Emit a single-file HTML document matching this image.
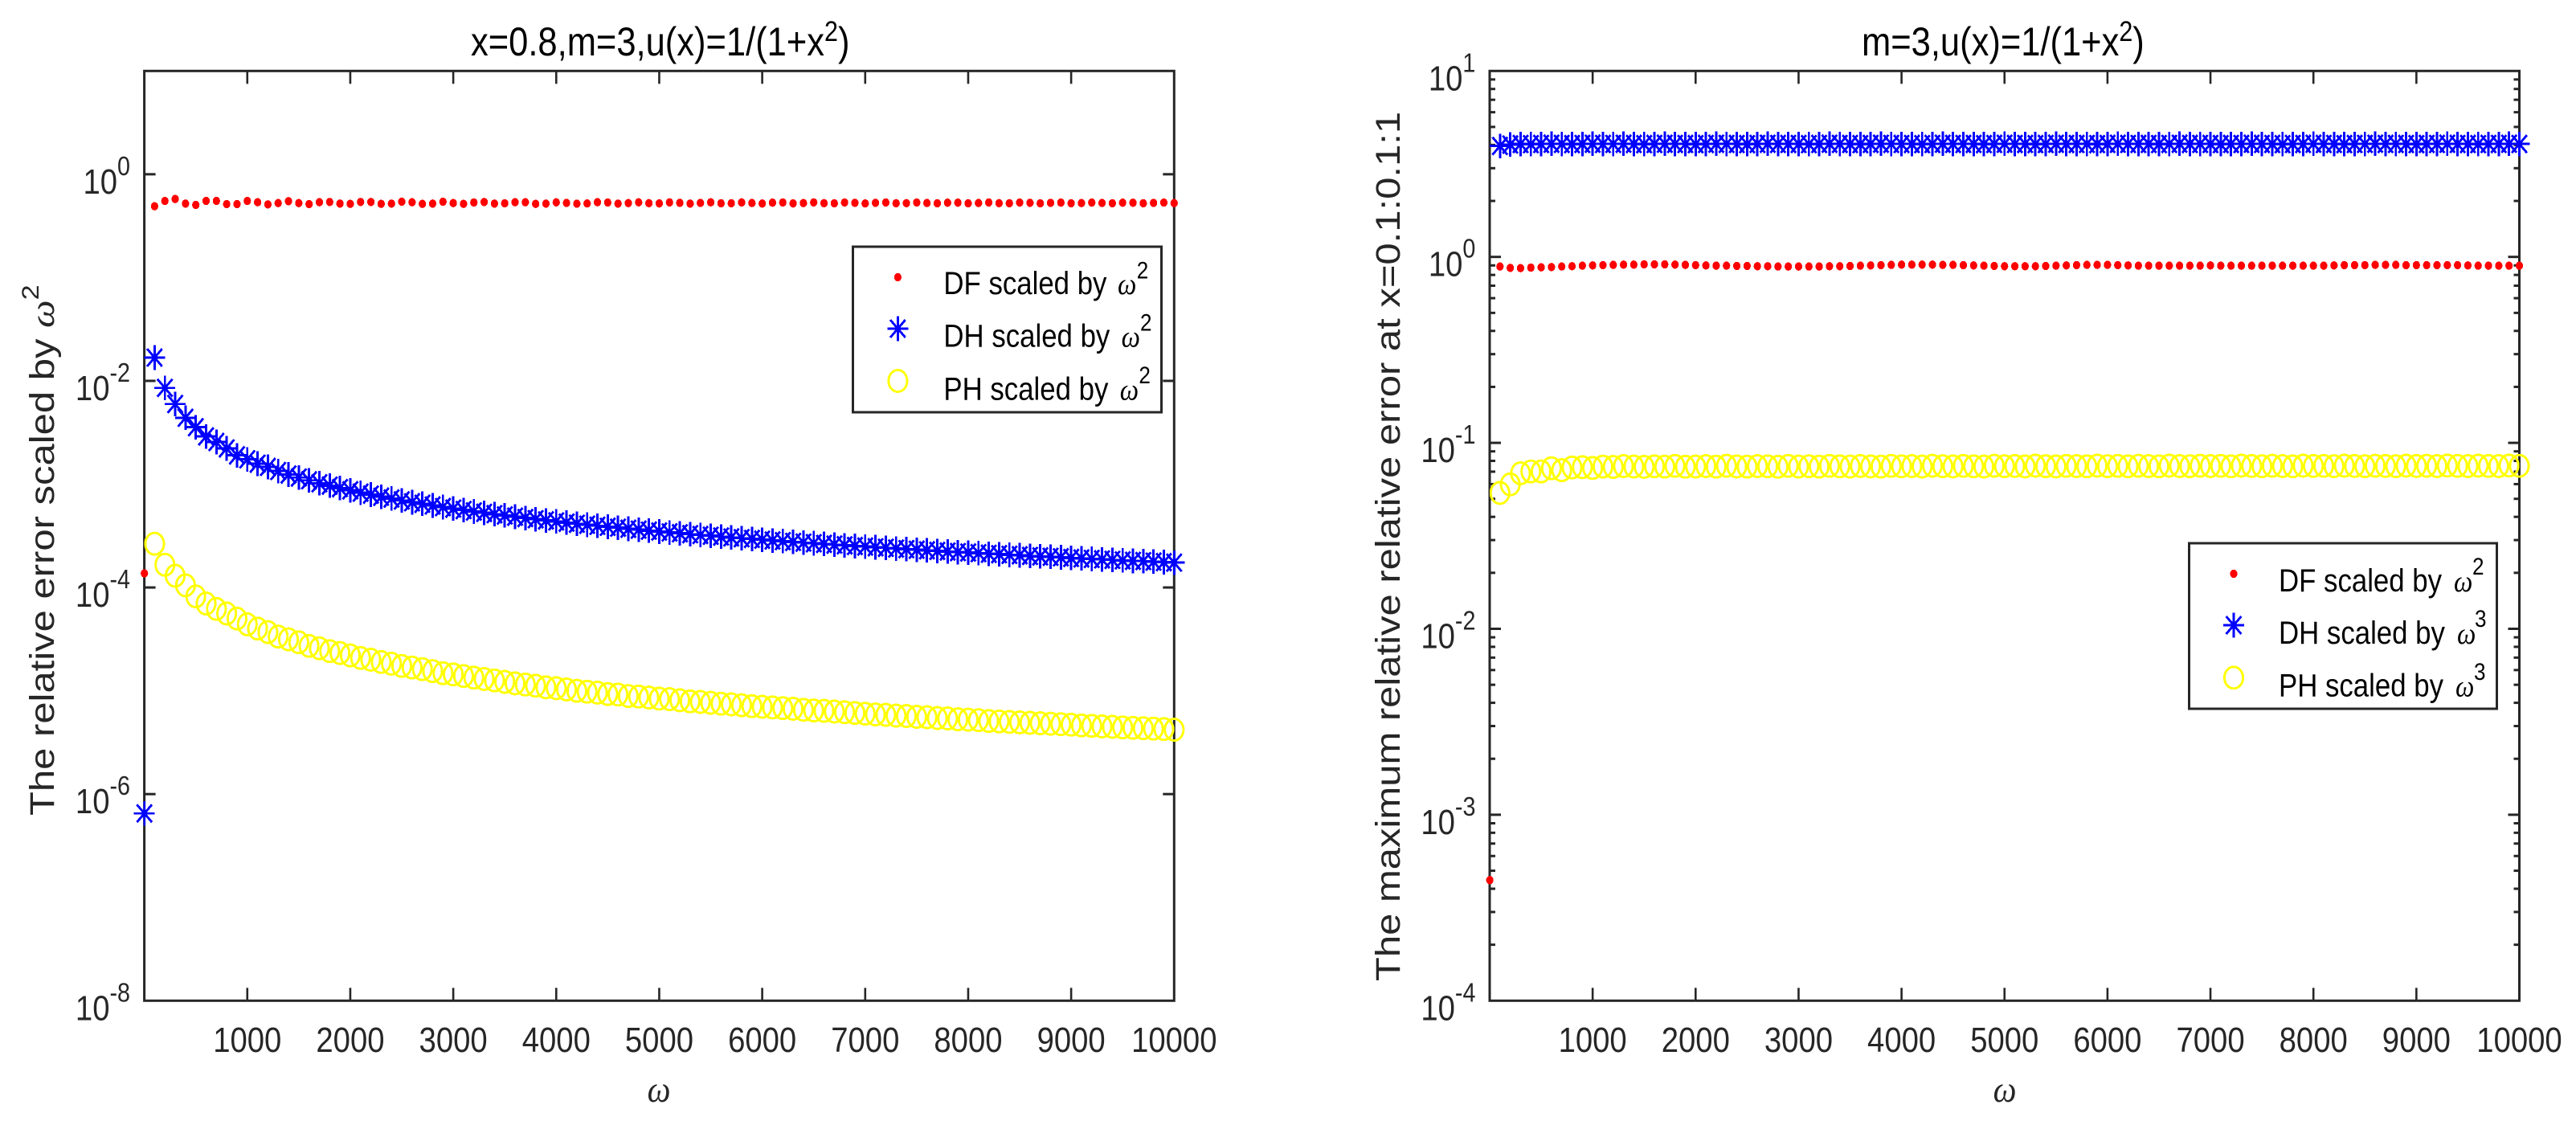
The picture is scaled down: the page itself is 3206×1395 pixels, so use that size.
<!DOCTYPE html>
<html>
<head>
<meta charset="utf-8">
<title>Relative error charts</title>
<style>
html,body{margin:0;padding:0;background:#fff;}
svg{display:block;}
text{font-family:"Liberation Sans",sans-serif;}
.sym{font-family:"Liberation Serif",serif;font-style:italic;}
</style>
</head>
<body>
<svg id="figure" xmlns="http://www.w3.org/2000/svg" width="3206" height="1395" viewBox="0 0 3206 1395">
<rect x="0" y="0" width="3206" height="1395" fill="#fff"/>
<g id="left-chart"></g>
<g id="right-chart"></g>

<text transform="translate(586,69) scale(0.87,1)" font-size="50" fill="#000">x=0.8,m=3,u(x)=1/(1+x<tspan font-size="35" dy="-18">2</tspan><tspan dy="18">)</tspan></text>
<text transform="translate(2317,69) scale(0.87,1)" font-size="50" fill="#000">m=3,u(x)=1/(1+x<tspan font-size="35" dy="-18">2</tspan><tspan dy="18">)</tspan></text>

<text transform="translate(67,1015) scale(0.87,1) rotate(-90)" font-size="49" fill="#262626">The relative error scaled by <tspan class="sym">ω</tspan><tspan font-size="34" dy="-22">2</tspan></text>
<text transform="translate(1742,1221) scale(0.87,1) rotate(-90)" font-size="49" fill="#262626">The maximum relative relative error at x=0.1:0.1:1</text>

<text class="sym" transform="translate(820,1371) scale(0.87,1)" font-size="47" fill="#262626" text-anchor="middle">ω</text>
<text class="sym" transform="translate(2495,1371) scale(0.87,1)" font-size="47" fill="#262626" text-anchor="middle">ω</text>

<g id="left-legend">
  <rect x="1061.5" y="307" width="384" height="206" fill="#fff" stroke="#262626" stroke-width="3"/>
  <g>
    <text transform="translate(1174.4,366) scale(0.87,1)" font-size="40" fill="#000">DF scaled by</text>
    <text class="sym" transform="translate(1391,366) scale(0.87,1)" font-size="38" fill="#000">ω</text>
    <text transform="translate(1414.7,346.7) scale(0.87,1)" font-size="30" fill="#000">2</text>
  </g>
  <g>
    <text transform="translate(1174.4,431.7) scale(0.87,1)" font-size="40" fill="#000">DH scaled by</text>
    <text class="sym" transform="translate(1395.6,431.7) scale(0.87,1)" font-size="38" fill="#000">ω</text>
    <text transform="translate(1419,411.7) scale(0.87,1)" font-size="30" fill="#000">2</text>
  </g>
  <g>
    <text transform="translate(1174.4,497.3) scale(0.87,1)" font-size="40" fill="#000">PH scaled by</text>
    <text class="sym" transform="translate(1393.7,497.3) scale(0.87,1)" font-size="38" fill="#000">ω</text>
    <text transform="translate(1417.4,477) scale(0.87,1)" font-size="30" fill="#000">2</text>
  </g>
</g>

<g id="right-legend">
  <rect x="2724.5" y="676" width="383" height="206" fill="#fff" stroke="#262626" stroke-width="3"/>
  <g>
    <text transform="translate(2836,736) scale(0.87,1)" font-size="40" fill="#000">DF scaled by</text>
    <text class="sym" transform="translate(3054,736) scale(0.87,1)" font-size="38" fill="#000">ω</text>
    <text transform="translate(3077,715) scale(0.87,1)" font-size="30" fill="#000">2</text>
  </g>
  <g>
    <text transform="translate(2836,801) scale(0.87,1)" font-size="40" fill="#000">DH scaled by</text>
    <text class="sym" transform="translate(3058,801) scale(0.87,1)" font-size="38" fill="#000">ω</text>
    <text transform="translate(3080,780) scale(0.87,1)" font-size="30" fill="#000">3</text>
  </g>
  <g>
    <text transform="translate(2836,866.7) scale(0.87,1)" font-size="40" fill="#000">PH scaled by</text>
    <text class="sym" transform="translate(3056,866.7) scale(0.87,1)" font-size="38" fill="#000">ω</text>
    <text transform="translate(3079,846) scale(0.87,1)" font-size="30" fill="#000">3</text>
  </g>
</g>
</svg>

<script>
const omega = [1,
100,200,300,400,500,600,700,800,900,1000,
1100,1200,1300,1400,1500,1600,1700,1800,1900,2000,
2100,2200,2300,2400,2500,2600,2700,2800,2900,3000,
3100,3200,3300,3400,3500,3600,3700,3800,3900,4000,
4100,4200,4300,4400,4500,4600,4700,4800,4900,5000,
5100,5200,5300,5400,5500,5600,5700,5800,5900,6000,
6100,6200,6300,6400,6500,6600,6700,6800,6900,7000,
7100,7200,7300,7400,7500,7600,7700,7800,7900,8000,
8100,8200,8300,8400,8500,8600,8700,8800,8900,9000,
9100,9200,9300,9400,9500,9600,9700,9800,9900,10000];

const xTickValues = [1000,2000,3000,4000,5000,6000,7000,8000,9000,10000];
const leftYTickExponents = [0,-2,-4,-6,-8];
const rightYTickExponents = [1,0,-1,-2,-3,-4];
const rightMinorMultipliers = [2,3,4,5,6,7,8,9];

const leftDF = [1.37e-4,
.490,.552,.576,.520,.505,.552,.552,.514,.514,.552,
.536,.511,.526,.549,.526,.514,.536,.539,.520,.517,
.539,.539,.517,.520,.542,.536,.517,.520,.542,.526,
.517,.533,.539,.520,.523,.536,.536,.517,.520,.535,
.528,.519,.522,.536,.533,.520,.526,.535,.525,.522,
.534,.529,.520,.528,.535,.524,.524,.534,.527,.521,
.531,.533,.522,.526,.534,.525,.523,.533,.529,.522,
.529,.533,.524,.525,.533,.527,.523,.531,.531,.523,
.527,.533,.525,.524,.532,.529,.523,.529,.532,.524,
.526,.532,.527,.524,.531,.530,.524,.528,.532,.526];

const leftDH = [6.5e-7,
.0168,.00855,.00597,.00439,.00356,.0029,.00256,.00222,.0019,.00174,
.00158,.00147,.00134,.00124,.00116,.00109,.00102,.000968,.000916,.000872,
.000828,.000792,.000756,.000726,.000696,.000668,.000646,.000622,.0006,.00058,
.000562,.000544,.000528,.000512,.000498,.000484,.00047,.000458,.000446,.000436,
.000424,.000414,.000405,.000396,.000387,.000379,.00037,.000363,.000355,.000348,
.000341,.000335,.000328,.000322,.000317,.000311,.000305,.0003,.000295,.00029,
.000285,.000281,.000276,.000272,.000268,.000264,.00026,.000256,.000252,.000249,
.000245,.000242,.000238,.000235,.000232,.000229,.000226,.000223,.00022,.000218,
.000215,.000212,.00021,.000207,.000205,.000202,.0002,.000198,.000196,.000193,
.000191,.000189,.000187,.000185,.000183,.000181,.00018,.000178,.000176,.000174];

const leftPH = [null,
2.65e-4,1.66e-4,1.3e-4,1.05e-4,8.2e-5,7.0e-5,6.2e-5,5.6e-5,5.0e-5,4.4e-5,
4.0e-5,3.7e-5,3.35e-5,3.15e-5,2.95e-5,2.72e-5,2.58e-5,2.42e-5,2.32e-5,2.2e-5,
2.08e-5,2.0e-5,1.9e-5,1.83e-5,1.74e-5,1.68e-5,1.62e-5,1.55e-5,1.48e-5,1.44e-5,
1.39e-5,1.34e-5,1.3e-5,1.26e-5,1.22e-5,1.18e-5,1.15e-5,1.12e-5,1.08e-5,1.06e-5,
1.03e-5,1.0e-5,9.8e-6,9.6e-6,9.3e-6,9.2e-6,8.9e-6,8.8e-6,8.6e-6,8.4e-6,
8.3e-6,8.1e-6,7.9e-6,7.8e-6,7.65e-6,7.5e-6,7.4e-6,7.25e-6,7.1e-6,7.0e-6,
6.9e-6,6.8e-6,6.7e-6,6.55e-6,6.45e-6,6.4e-6,6.3e-6,6.2e-6,6.1e-6,6.0e-6,
5.9e-6,5.85e-6,5.75e-6,5.7e-6,5.6e-6,5.55e-6,5.45e-6,5.4e-6,5.3e-6,5.25e-6,
5.2e-6,5.1e-6,5.05e-6,5.0e-6,4.95e-6,4.9e-6,4.85e-6,4.8e-6,4.75e-6,4.7e-6,
4.62e-6,4.58e-6,4.52e-6,4.48e-6,4.42e-6,4.38e-6,4.34e-6,4.3e-6,4.26e-6,4.2e-6];

const rightDF = [4.45e-4,
.888,.873,.870,.876,.879,.882,.888,.891,.897,.900,
.903,.906,.909,.909,.912,.912,.912,.909,.906,.903,
.900,.897,.897,.894,.894,.891,.891,.888,.888,.888,
.888,.888,.891,.891,.894,.897,.900,.903,.906,.909,
.909,.909,.909,.906,.906,.903,.900,.897,.894,.891,
.891,.891,.891,.894,.897,.900,.903,.906,.906,.906,
.903,.900,.897,.897,.897,.897,.897,.897,.897,.900,
.897,.897,.897,.897,.897,.897,.897,.897,.897,.897,
.897,.900,.903,.903,.903,.906,.906,.906,.903,.903,
.903,.903,.903,.903,.900,.897,.897,.897,.897,.897];

const rightDH = [null,
3.95,4.02,4.05,4.04,4.05,4.06,4.05,4.04,4.05,4.06,
4.05,4.05,4.06,4.05,4.04,4.05,4.06,4.05,4.05,4.04,
4.05,4.06,4.05,4.05,4.04,4.05,4.06,4.05,4.05,4.05,
4.04,4.05,4.06,4.05,4.05,4.04,4.05,4.06,4.05,4.05,
4.05,4.04,4.05,4.06,4.05,4.05,4.05,4.04,4.05,4.06,
4.05,4.05,4.04,4.05,4.06,4.05,4.05,4.05,4.04,4.05,
4.06,4.05,4.05,4.05,4.04,4.05,4.06,4.05,4.05,4.05,
4.04,4.05,4.05,4.06,4.05,4.05,4.04,4.05,4.05,4.06,
4.05,4.05,4.04,4.05,4.05,4.06,4.05,4.05,4.05,4.04,
4.05,4.05,4.06,4.05,4.05,4.04,4.05,4.05,4.06,4.05];

const rightPH = [null,
.0538,.0598,.0686,.0702,.0702,.0730,.0713,.0737,.0740,.0733,
.0745,.0742,.0750,.0746,.0743,.0748,.0745,.0752,.0744,.0746,
.0750,.0745,.0753,.0747,.0745,.0750,.0748,.0744,.0752,.0746,
.0749,.0745,.0752,.0748,.0746,.0751,.0747,.0745,.0752,.0748,
.0750,.0746,.0753,.0749,.0747,.0752,.0748,.0746,.0753,.0749,
.0751,.0747,.0754,.0749,.0747,.0752,.0750,.0748,.0754,.0749,
.0752,.0748,.0753,.0750,.0748,.0754,.0750,.0749,.0753,.0750,
.0752,.0748,.0754,.0751,.0749,.0753,.0750,.0748,.0754,.0751,
.0752,.0749,.0754,.0751,.0749,.0753,.0751,.0749,.0754,.0751,
.0753,.0750,.0755,.0752,.0750,.0754,.0751,.0750,.0755,.0752];

const SVG_NS = 'http://www.w3.org/2000/svg';
const AXIS_COLOR = '#262626';

function svgEl(tag, parent) {
  const el = document.createElementNS(SVG_NS, tag);
  parent.appendChild(el);
  return el;
}

function drawLine(parent, name, x1, y1, x2, y2, width) {
  const el = svgEl('line', parent);
  
  
  el.setAttribute('x1', x1);
  el.setAttribute('y1', y1);
  el.setAttribute('x2', x2);
  el.setAttribute('y2', y2);
  el.setAttribute('stroke', AXIS_COLOR);
  el.setAttribute('stroke-width', width);
  return el;
}

function drawMarker(parent, kind, name, cx, cy) {
  if (kind === 'dot') {
    const el = svgEl('ellipse', parent);
    
    
    el.setAttribute('cx', cx);
    el.setAttribute('cy', cy);
    el.setAttribute('rx', 4.6);
    el.setAttribute('ry', 5.2);
    el.setAttribute('fill', '#ff0000');
    el.setAttribute('shape-rendering', 'crispEdges');
  } else if (kind === 'star') {
    const el = svgEl('path', parent);
    
    
    const a = 13, b = 15.3, c = 9.4, d = 11;
    el.setAttribute('d',
      'M' + (cx - a) + ' ' + cy + 'L' + (cx + a) + ' ' + cy +
      'M' + cx + ' ' + (cy - b) + 'L' + cx + ' ' + (cy + b) +
      'M' + (cx - c) + ' ' + (cy - d) + 'L' + (cx + c) + ' ' + (cy + d) +
      'M' + (cx - c) + ' ' + (cy + d) + 'L' + (cx + c) + ' ' + (cy - d));
    el.setAttribute('fill', 'none');
    el.setAttribute('stroke', '#0000ff');
    el.setAttribute('stroke-width', 2.9);
    el.setAttribute('shape-rendering', 'crispEdges');
  } else {
    const el = svgEl('ellipse', parent);
    
    
    el.setAttribute('cx', cx);
    el.setAttribute('cy', cy);
    el.setAttribute('rx', 11.6);
    el.setAttribute('ry', 13.5);
    el.setAttribute('fill', 'none');
    el.setAttribute('stroke', '#ffff00');
    el.setAttribute('stroke-width', 2.9);
    el.setAttribute('shape-rendering', 'crispEdges');
  }
}

function drawChart(root, prefix, box, yTop, yBottom, yExponents, minors, seriesList) {
  const xScale = v => box.left + (v / 10000) * (box.right - box.left);
  const yScale = v => box.top + ((yTop - Math.log10(v)) / (yTop - yBottom)) * (box.bottom - box.top);

  const frame = svgEl('rect', root);
  
  
  frame.setAttribute('x', box.left);
  frame.setAttribute('y', box.top);
  frame.setAttribute('width', box.right - box.left);
  frame.setAttribute('height', box.bottom - box.top);
  frame.setAttribute('fill', 'none');
  frame.setAttribute('stroke', AXIS_COLOR);
  frame.setAttribute('stroke-width', 3);

  xTickValues.forEach(v => {
    const x = xScale(v);
    if (v < 10000) {
      drawLine(root, prefix + '-x-tick-bottom', x, box.bottom, x, box.bottom - 16, 2.6);
      drawLine(root, prefix + '-x-tick-top', x, box.top, x, box.top + 16, 2.6);
    }
    const label = svgEl('text', root);
    
    
    label.setAttribute('transform', 'translate(' + x + ',1309) scale(0.87,1)');
    label.setAttribute('font-size', 44);
    label.setAttribute('fill', AXIS_COLOR);
    label.setAttribute('text-anchor', 'middle');
    label.textContent = String(v);
  });

  yExponents.forEach(exp => {
    const y = yScale(Math.pow(10, exp));
    if (exp < yTop && exp > yBottom) {
      drawLine(root, prefix + '-y-tick-left', box.left, y, box.left + 14, y, 3);
      drawLine(root, prefix + '-y-tick-right', box.right, y, box.right - 14, y, 3);
    }
    const label = svgEl('text', root);
    
    
    label.setAttribute('transform', 'translate(' + (box.left - 17.6) + ',' + (y + 24) + ') scale(0.87,1)');
    label.setAttribute('font-size', 44);
    label.setAttribute('fill', AXIS_COLOR);
    label.setAttribute('text-anchor', 'end');
    label.appendChild(document.createTextNode('10'));
    const sup = svgEl('tspan', label);
    sup.setAttribute('font-size', 33);
    sup.setAttribute('dy', -23);
    sup.textContent = String(exp);
  });

  minors.forEach(m => {
    for (let e = yBottom; e < yTop; e++) {
      const y = yScale(m * Math.pow(10, e));
      drawLine(root, prefix + '-y-minor-tick-left', box.left, y, box.left + 7, y, 3);
      drawLine(root, prefix + '-y-minor-tick-right', box.right, y, box.right - 7, y, 3);
    }
  });

  seriesList.forEach(series => {
    const g = svgEl('g', root);
    
    
    omega.forEach((w, i) => {
      const v = series.values[i];
      if (v === null) return;
      drawMarker(g, series.kind, prefix + '-' + series.name + '-point', xScale(w), yScale(v));
    });
  });
}

drawChart(document.getElementById('left-chart'), 'left',
  {left: 179.6, right: 1461.3, top: 88.3, bottom: 1245.3}, 1, -8,
  leftYTickExponents, [],
  [{name: 'df', kind: 'dot', values: leftDF},
   {name: 'dh', kind: 'star', values: leftDH},
   {name: 'ph', kind: 'circle', values: leftPH}]);

drawChart(document.getElementById('right-chart'), 'right',
  {left: 1854, right: 3135.5, top: 88.3, bottom: 1245.3}, 1, -4,
  rightYTickExponents, rightMinorMultipliers,
  [{name: 'df', kind: 'dot', values: rightDF},
   {name: 'dh', kind: 'star', values: rightDH},
   {name: 'ph', kind: 'circle', values: rightPH}]);

const legendMarkerKinds = ['dot', 'star', 'circle'];
const leftLegendRows = [345, 409, 474];
const rightLegendRows = [714, 778, 843.3];
const leftLegend = document.getElementById('left-legend');
const rightLegend = document.getElementById('right-legend');
legendMarkerKinds.forEach((kind, i) => {
  drawMarker(leftLegend, kind, 'left-legend-marker-' + kind, 1117.4, leftLegendRows[i]);
  drawMarker(rightLegend, kind, 'right-legend-marker-' + kind, 2780, rightLegendRows[i]);
});
</script>
</body>
</html>
